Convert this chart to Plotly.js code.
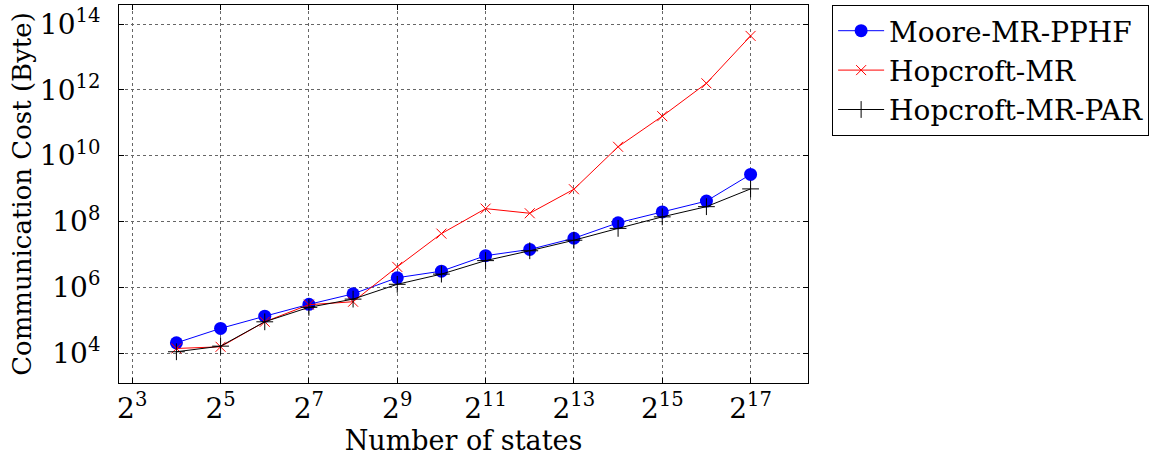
<!DOCTYPE html>
<html><head><meta charset="utf-8">
<script src="https://cdn.plot.ly/plotly-3.0.1.min.js"></script>
<style>html,body{margin:0;padding:0;background:#fff}#chart{width:1165px;height:461px}</style>
</head><body><div id="chart"></div>
<script>
// exponents of 2 for number of states
const stateExponents = [4,5,6,7,8,9,10,11,12,13,14,15,16,17];
// log10 of communication cost (bytes)
const mooreLog = [4.31,4.75,5.12,5.48,5.80,6.29,6.49,6.96,7.15,7.49,7.96,8.29,8.62,9.43];
const hopcroftLog = [4.14,4.19,4.95,5.47,5.56,6.62,7.63,8.39,8.25,8.98,10.27,11.20,12.20,13.64];
const parLog = [4.04,4.21,4.95,5.39,5.64,6.09,6.40,6.81,7.11,7.43,7.79,8.14,8.45,8.99];
const xTickExp = [3,5,7,9,11,13,15,17];
const yTickExp = [4,6,8,10,12,14];
const seriesNames = ['Moore-MR-PPHF','Hopcroft-MR','Hopcroft-MR-PAR'];

const xs = stateExponents.map(e => Math.pow(2,e));
const toVal = a => a.map(v => Math.pow(10,v));
const font = '"DejaVu Serif", "Liberation Serif", serif';

const traces = [
  {x: xs, y: toVal(mooreLog), name: seriesNames[0], mode:'lines+markers',
   line:{color:'#0000ff', width:1}, marker:{symbol:'circle', size:13, color:'#0000ff'}},
  {x: xs, y: toVal(hopcroftLog), name: seriesNames[1], mode:'lines+markers',
   line:{color:'#ff0000', width:1}, marker:{symbol:'x-thin-open', size:10, color:'#ff0000', line:{color:'#ff0000', width:1}}},
  {x: xs, y: toVal(parLog), name: seriesNames[2], mode:'lines+markers',
   line:{color:'#000000', width:1}, marker:{symbol:'cross-thin-open', size:12, color:'#000000', line:{color:'#000000', width:1}}}
];

const layout = {
  width:1165, height:461,
  margin:{l:119, r:357, t:5, b:78},
  paper_bgcolor:'#fff', plot_bgcolor:'#fff',
  font:{family:font, color:'#000', size:26},
  showlegend:true,
  legend:{x:1.035, y:1, xanchor:'left', yanchor:'top', bordercolor:'#000', borderwidth:1,
          font:{family:font, size:28, color:'#000'}, bgcolor:'#fff', itemwidth:46},
  xaxis:{type:'log', range:[2.7*Math.log10(2), 18.3*Math.log10(2)],
    tickvals: xTickExp.map(e=>Math.pow(2,e)),
    ticktext: xTickExp.map(e=>'2<sup>'+e+'</sup>'),
    ticks:'inside', ticklen:5, tickcolor:'#000', showline:true, linecolor:'#000', linewidth:1, mirror:'ticks',
    showgrid:true, gridcolor:'#666', griddash:'dot', gridwidth:1, zeroline:false,
    tickfont:{family:font, size:28},
    title:{text:'Number of states', font:{family:font, size:27}, standoff:6}},
  yaxis:{type:'log', range:[3.09, 14.58],
    tickvals: yTickExp.map(e=>Math.pow(10,e)),
    ticktext: yTickExp.map(e=>'10<sup>'+e+'</sup>'),
    ticks:'inside', ticklen:5, tickcolor:'#000', showline:true, linecolor:'#000', linewidth:1, mirror:'ticks',
    showgrid:true, gridcolor:'#666', griddash:'dot', gridwidth:1, zeroline:false,
    tickfont:{family:font, size:28}, ticklabelstandoff:12,
    title:{text:'Communication Cost (Byte)', font:{family:font, size:26}, standoff:0}}
};
Plotly.newPlot('chart', traces, layout, {staticPlot:true, displayModeBar:false});
</script></body></html>
